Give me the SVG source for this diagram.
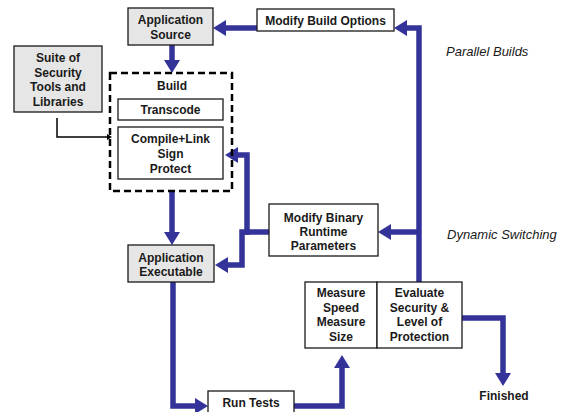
<svg xmlns="http://www.w3.org/2000/svg" width="567" height="412" viewBox="0 0 567 412">
  <style>
    .box { fill: #ffffff; stroke: #1a1a1a; stroke-width: 1.3; }
    .grey { fill: #e6e6e6; }
    .lbl { font-family: "Liberation Sans", Arial, sans-serif; font-size: 12px; font-weight: bold; fill: #1a1a1a; text-anchor: middle; }
    .note { font-family: "Liberation Sans", Arial, sans-serif; font-size: 13px; font-style: italic; fill: #1a1a1a; }
    .flow { fill: none; stroke: #333399; stroke-width: 5.5; marker-end: url(#head); }
    .thin { fill: none; stroke: #000000; stroke-width: 1.5; marker-end: url(#small); }
  </style>
  <defs>
    <marker id="head" markerUnits="userSpaceOnUse" markerWidth="14" markerHeight="16" refX="5" refY="8" orient="auto">
      <path d="M0,0 L13,8 L0,16 z" fill="#333399"/>
    </marker>
    <marker id="small" markerUnits="userSpaceOnUse" markerWidth="6" markerHeight="6" refX="1" refY="3" orient="auto">
      <path d="M0,0 L5,3 L0,6 z" fill="#000000"/>
    </marker>
  </defs>

  <rect width="567" height="412" fill="#ffffff"/>

  <g id="connectors">
    <path class="flow" d="M257,28 H221"/>
    <path class="flow" d="M419,282 V28 H402"/>
    <path class="flow" d="M419,232 H386"/>
    <path class="flow" d="M172,45 V65"/>
    <path class="flow" d="M172,191 V237"/>
    <path class="flow" d="M269,232 H247 V155 H233"/>
    <path class="flow" d="M250,232 H242 V265 H223"/>
    <path class="flow" d="M173,282 V406 H200"/>
    <path class="flow" d="M294,406 H342 V363"/>
    <path class="flow" d="M462,318 H503 V378"/>
    <path class="thin" d="M57,118 V137 H108"/>
  </g>

  <g id="app-source">
    <rect class="box grey" x="128" y="8" width="85" height="37"/>
    <text class="lbl" x="170.5" y="24">Application</text>
    <text class="lbl" x="170.5" y="39">Source</text>
  </g>

  <g id="modify-build-options">
    <rect class="box" x="257" y="9" width="137" height="22"/>
    <text class="lbl" x="325.5" y="24.5">Modify Build Options</text>
  </g>

  <g id="suite">
    <rect class="box grey" x="14" y="46" width="88" height="66"/>
    <text class="lbl" x="58" y="62">Suite of</text>
    <text class="lbl" x="58" y="76.5">Security</text>
    <text class="lbl" x="58" y="91">Tools and</text>
    <text class="lbl" x="58" y="105.5">Libraries</text>
  </g>

  <g id="build">
    <rect x="110" y="73" width="122" height="118" fill="none" stroke="#000000" stroke-width="2.5" stroke-dasharray="7 4"/>
    <text class="lbl" x="172" y="90">Build</text>
  </g>

  <g id="transcode">
    <rect class="box" x="118" y="99" width="105" height="21"/>
    <text class="lbl" x="170.5" y="114">Transcode</text>
  </g>

  <g id="compile">
    <rect class="box" x="118" y="127" width="105" height="52"/>
    <text class="lbl" x="170.5" y="143">Compile+Link</text>
    <text class="lbl" x="170.5" y="158">Sign</text>
    <text class="lbl" x="170.5" y="173">Protect</text>
  </g>

  <g id="modify-binary">
    <rect class="box" x="269" y="204" width="109" height="52"/>
    <text class="lbl" x="323.5" y="222">Modify Binary</text>
    <text class="lbl" x="323.5" y="236">Runtime</text>
    <text class="lbl" x="323.5" y="250">Parameters</text>
  </g>

  <g id="app-executable">
    <rect class="box grey" x="128" y="245" width="86" height="37"/>
    <text class="lbl" x="171" y="262">Application</text>
    <text class="lbl" x="171" y="275.5">Executable</text>
  </g>

  <g id="measure">
    <rect class="box" x="305" y="282" width="72" height="66"/>
    <text class="lbl" x="341" y="297">Measure</text>
    <text class="lbl" x="341" y="311.5">Speed</text>
    <text class="lbl" x="341" y="326">Measure</text>
    <text class="lbl" x="341" y="340.5">Size</text>
  </g>

  <g id="evaluate">
    <rect class="box" x="377" y="282" width="85" height="66"/>
    <text class="lbl" x="419.5" y="297">Evaluate</text>
    <text class="lbl" x="419.5" y="311.5">Security &amp;</text>
    <text class="lbl" x="419.5" y="326">Level of</text>
    <text class="lbl" x="419.5" y="340.5">Protection</text>
  </g>

  <g id="run-tests">
    <rect class="box" x="208" y="391" width="86" height="30"/>
    <text class="lbl" x="251" y="407">Run Tests</text>
  </g>

  <g id="finished">
    <text class="lbl" x="504" y="400">Finished</text>
  </g>

  <g id="notes">
    <text class="note" x="446" y="56">Parallel Builds</text>
    <text class="note" x="447" y="239">Dynamic Switching</text>
  </g>
</svg>
